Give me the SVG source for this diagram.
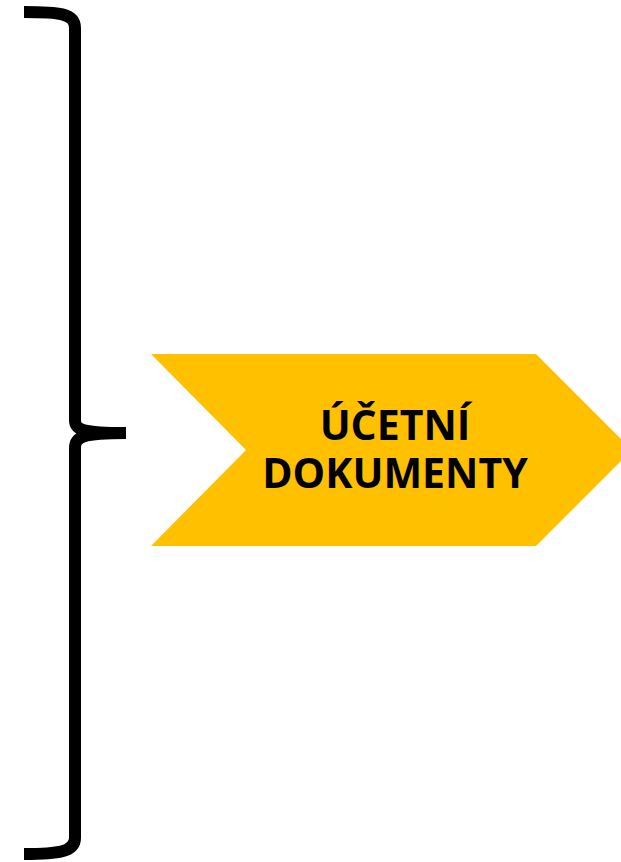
<svg xmlns="http://www.w3.org/2000/svg" width="621" height="862" viewBox="0 0 621 862">
<style>
.brace{fill:none;stroke:#000;stroke-width:12;stroke-linecap:butt;stroke-linejoin:round}
.arrow{fill:#FFC000}
.lbl{font-family:"Open Sans","Liberation Sans",sans-serif;font-weight:bold;font-size:41px;fill:#000;text-anchor:middle}
</style>
<g id="brace">
<path class="brace" d="M24,12 C58,12 75,13 75,28 L75,420 C75,430 82,433 126,433 M126,433 C82,433 75,437 75,448 L75,838 C75,852 58,854 24,854"/>
</g>
<g id="node-ucetni-dokumenty">
<polygon class="arrow" points="151,354 536,354 632,450 536,546 151,546 246,450"/>
<text class="lbl"><tspan x="395" y="440">ÚČETNÍ</tspan><tspan x="395" y="488">DOKUMENTY</tspan></text>
</g>
</svg>
